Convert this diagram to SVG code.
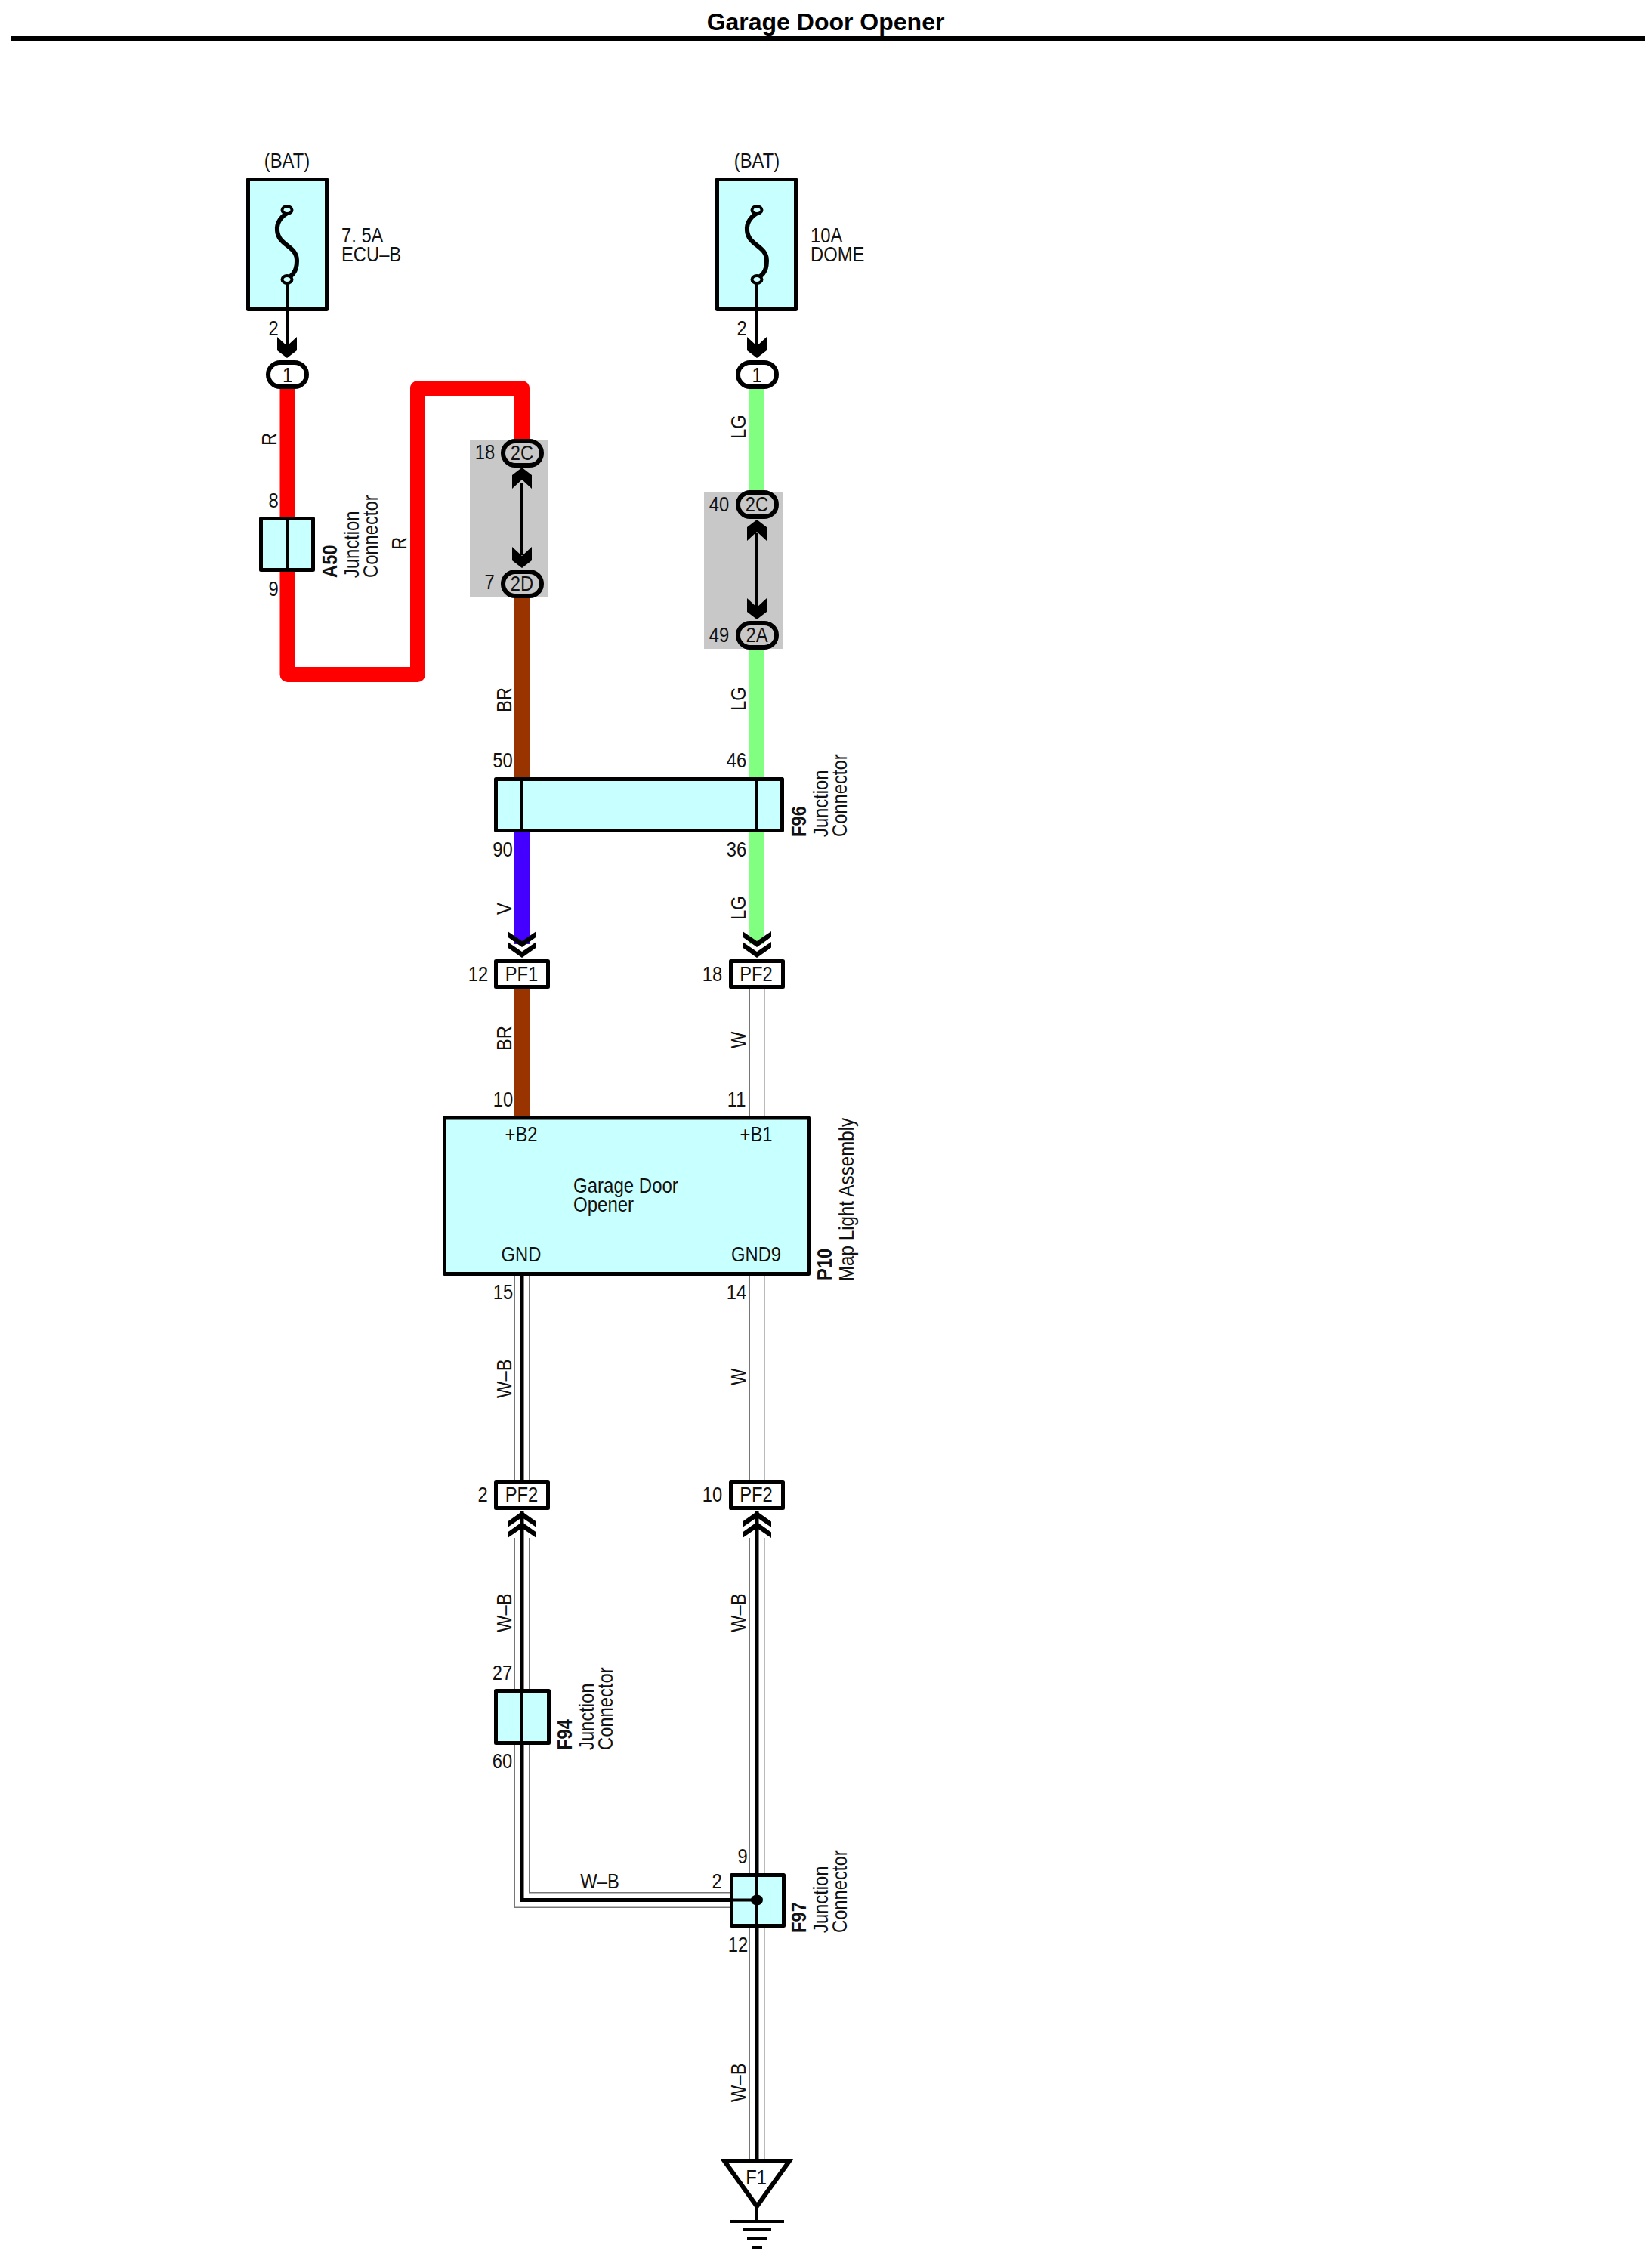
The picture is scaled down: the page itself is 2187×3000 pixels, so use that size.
<svg xmlns="http://www.w3.org/2000/svg" xmlns:xlink="http://www.w3.org/1999/xlink" width="2187" height="3000" viewBox="0 0 2187 3000">
<style>
text{font-family:"Liberation Sans",Arial,sans-serif;font-size:27px;fill:#111}
.m{text-anchor:middle}
.b{font-weight:bold}
.title{font-size:32px;font-weight:bold;text-anchor:middle;fill:#000}
.box{fill:#c8ffff;stroke:#000;stroke-width:5;stroke-linejoin:round}
.white{fill:#fff;stroke:#000;stroke-width:5;stroke-linejoin:round}
.oval{fill:#fff;stroke:#000;stroke-width:6}
.ovalg{fill:#c8c8c8;stroke:#000;stroke-width:6}
.gray{fill:#c8c8c8}
.ln{fill:none;stroke:#000;stroke-width:4}
.w{fill:none;stroke-width:20;stroke-linejoin:round}
.r{stroke:#f00}.br{stroke:#930}.lg{stroke:#80ff80}.v{stroke:#40f}
.wo{fill:none;stroke:#777;stroke-width:21;stroke-linejoin:miter}
.wi{fill:none;stroke:#fff;stroke-width:18;stroke-linejoin:miter}
.wb{fill:none;stroke:#000;stroke-width:5;stroke-linejoin:miter}
</style>
<defs>
<path id="sd" d="M-13-28L0-16L13-28V-10L0 0L-13-10Z" fill="#000"/>
<path id="dc" fill="#000" d="M0 0L19-13.500V-21L0-8L-19-21V-13.500ZM0-14L19-27.500V-35L0-22L-19-35V-27.500Z"/>
<path id="fuse" d="M5-90C-8-85-14-75-13-65C-12-45 13-45 13-25C13-8 5-4-2 0" fill="none" stroke="#000" stroke-width="6"/>
</defs>
<g id="title">
<text class="title" transform="translate(1093 40)">Garage Door Opener</text>
<rect x="14" y="48" width="2164" height="6" fill="#000"/>
</g>
<g id="connectors">
<path class="w r" d="M380.500 515V893H553V514H691V585"/>
<path class="w br" d="M691 790V1030"/>
<path class="w v" d="M691 1102V1250"/>
<path class="w br" d="M691 1309V1478"/>
<path class="w lg" d="M1002 515V655"/>
<path class="w lg" d="M1002 855V1030"/>
<path class="w lg" d="M1002 1102V1250"/>
<path class="wo" d="M1002 1309V1478"/><path class="wi" d="M1002 1309V1478"/>
<path class="wo" d="M1002 1689V1961"/><path class="wi" d="M1002 1689V1961"/>
<path class="wo" d="M691 1689V1961"/><path class="wi" d="M691 1689V1961"/><path class="wb" d="M691 1689V1961"/>
<path class="wo" d="M691 2036V2515.500H966"/><path class="wi" d="M691 2036V2515.500H966"/>
<path class="wb" d="M691 2001V2515.500H1002"/>
<path class="wo" d="M1002 2036V2860"/><path class="wi" d="M1002 2036V2860"/>
<path class="wb" d="M1002 2001V2860"/>
</g>
<g id="fuse-ecu-b">
<text class="m" transform="translate(380 222) scale(.88 1)">(BAT)</text>
<rect class="box" x="328.500" y="237.500" width="104" height="172"/>
<use href="#fuse" x="380" y="370"/>
<path class="ln" d="M380 370V460"/>
<ellipse cx="380" cy="278" rx="6.500" ry="5" fill="#c8ffff" stroke="#000" stroke-width="4"/>
<ellipse cx="380" cy="370" rx="6.500" ry="5" fill="#c8ffff" stroke="#000" stroke-width="4"/>
<text transform="translate(452 321) scale(.88 1)">7. 5A</text>
<text transform="translate(452 346) scale(.88 1)">ECU–B</text>
<text class="m" transform="translate(362 444) scale(.88 1)">2</text>
<use href="#sd" x="380" y="474"/>
<rect class="oval" x="355" y="480" width="51" height="32" rx="16"/>
<text class="m" transform="translate(380.500 506) scale(.88 1)">1</text>
</g>
<g id="fuse-dome">
<text class="m" transform="translate(1002 222) scale(.88 1)">(BAT)</text>
<rect class="box" x="949.500" y="237.500" width="104" height="172"/>
<use href="#fuse" x="1002" y="370"/>
<path class="ln" d="M1002 370V460"/>
<ellipse cx="1002" cy="278" rx="6.500" ry="5" fill="#c8ffff" stroke="#000" stroke-width="4"/>
<ellipse cx="1002" cy="370" rx="6.500" ry="5" fill="#c8ffff" stroke="#000" stroke-width="4"/>
<text transform="translate(1073 321) scale(.88 1)">10A</text>
<text transform="translate(1073 346) scale(.88 1)">DOME</text>
<text class="m" transform="translate(982 444) scale(.88 1)">2</text>
<use href="#sd" x="1002" y="474"/>
<rect class="oval" x="977" y="480" width="51" height="32" rx="16"/>
<text class="m" transform="translate(1002 506) scale(.88 1)">1</text>
</g>
<g id="a50">
<rect class="box" x="345.500" y="686.500" width="69" height="68"/>
<path class="ln" d="M380 686V755"/>
<text class="m" transform="translate(362 672) scale(.88 1)">8</text>
<text class="m" transform="translate(362 789) scale(.88 1)">9</text>
<text class="b" transform="translate(446 765) rotate(-90) scale(.88 1)">A50</text>
<text transform="translate(475 765) rotate(-90) scale(.88 1)">Junction</text>
<text transform="translate(500 765) rotate(-90) scale(.88 1)">Connector</text>
</g>
<g id="splice-left">
<rect class="gray" x="622" y="583" width="104" height="207"/>
<path class="ln" d="M691 640V735"/>
<use href="#sd" transform="translate(691 619) scale(1 -1)" />
<use href="#sd" x="691" y="752"/>
<rect class="ovalg" x="666" y="584" width="51" height="32" rx="16"/>
<rect class="ovalg" x="666" y="757" width="51" height="32" rx="16"/>
<text class="m" transform="translate(691 609) scale(.88 1)">2C</text>
<text class="m" transform="translate(691 782) scale(.88 1)">2D</text>
<text class="m" transform="translate(642 608) scale(.88 1)">18</text>
<text class="m" transform="translate(648 780) scale(.88 1)">7</text>
</g>
<g id="splice-right">
<rect class="gray" x="932" y="652" width="104" height="207"/>
<path class="ln" d="M1002 705V805"/>
<use href="#sd" transform="translate(1002 688) scale(1 -1)" />
<use href="#sd" x="1002" y="820"/>
<rect class="ovalg" x="977" y="652" width="51" height="32" rx="16"/>
<rect class="ovalg" x="977" y="825" width="51" height="32" rx="16"/>
<text class="m" transform="translate(1002 677) scale(.88 1)">2C</text>
<text class="m" transform="translate(1002 850) scale(.88 1)">2A</text>
<text class="m" transform="translate(952 677) scale(.88 1)">40</text>
<text class="m" transform="translate(952 850) scale(.88 1)">49</text>
</g>
<g id="f96">
<rect class="box" x="656.500" y="1031.500" width="379" height="68"/>
<path class="ln" d="M691 1031V1100M1002 1031V1100"/>
<text class="m" transform="translate(665.500 1016) scale(.88 1)">50</text>
<text class="m" transform="translate(975 1016) scale(.88 1)">46</text>
<text class="m" transform="translate(665.500 1134) scale(.88 1)">90</text>
<text class="m" transform="translate(975 1134) scale(.88 1)">36</text>
<text class="b" transform="translate(1067 1108) rotate(-90) scale(.88 1)">F96</text>
<text transform="translate(1096 1108) rotate(-90) scale(.88 1)">Junction</text>
<text transform="translate(1121 1108) rotate(-90) scale(.88 1)">Connector</text>
</g>
<g id="pf1-12">
<use href="#dc" x="691" y="1268"/>
<rect class="white" x="656.500" y="1272.500" width="69" height="34"/>
<text class="m" transform="translate(690.500 1299) scale(.88 1)">PF1</text>
<text class="m" transform="translate(633 1299) scale(.88 1)">12</text>
</g>
<g id="pf2-18">
<use href="#dc" x="1002" y="1268"/>
<rect class="white" x="967.500" y="1272.500" width="69" height="34"/>
<text class="m" transform="translate(1001 1299) scale(.88 1)">PF2</text>
<text class="m" transform="translate(943 1299) scale(.88 1)">18</text>
</g>
<g id="p10">
<rect class="box" x="588.500" y="1480" width="482" height="206.500"/>
<text class="m" transform="translate(666 1465) scale(.88 1)">10</text>
<text class="m" transform="translate(975 1465) scale(.88 1)">11</text>
<text class="m" transform="translate(690 1511) scale(.88 1)">+B2</text>
<text class="m" transform="translate(1001 1511) scale(.88 1)">+B1</text>
<text transform="translate(759 1579) scale(.89 1)">Garage Door</text>
<text transform="translate(759 1604) scale(.89 1)">Opener</text>
<text class="m" transform="translate(690 1670) scale(.88 1)">GND</text>
<text class="m" transform="translate(1001 1670) scale(.88 1)">GND9</text>
<text class="m" transform="translate(666 1720) scale(.88 1)">15</text>
<text class="m" transform="translate(975 1720) scale(.88 1)">14</text>
<text class="b" transform="translate(1101 1695) rotate(-90) scale(.88 1)">P10</text>
<text transform="translate(1130 1696) rotate(-90) scale(.895 1)">Map Light Assembly</text>
</g>
<g id="pf2-2">
<rect class="white" x="656.500" y="1962.500" width="69" height="34"/>
<text class="m" transform="translate(690.500 1988) scale(.88 1)">PF2</text>
<text class="m" transform="translate(639 1988) scale(.88 1)">2</text>
<use href="#dc" transform="translate(691 2001) scale(1 -1)"/>
</g>
<g id="pf2-10">
<rect class="white" x="967.500" y="1962.500" width="69" height="34"/>
<text class="m" transform="translate(1001 1988) scale(.88 1)">PF2</text>
<text class="m" transform="translate(943 1988) scale(.88 1)">10</text>
<use href="#dc" transform="translate(1002 2001) scale(1 -1)"/>
</g>
<g id="f94">
<rect class="box" x="656.500" y="2238.500" width="70" height="69"/>
<path class="ln" d="M691 2239V2308"/>
<text class="m" transform="translate(665 2224) scale(.88 1)">27</text>
<text class="m" transform="translate(665 2341) scale(.88 1)">60</text>
<text class="b" transform="translate(757 2317) rotate(-90) scale(.88 1)">F94</text>
<text transform="translate(786 2317) rotate(-90) scale(.88 1)">Junction</text>
<text transform="translate(811 2317) rotate(-90) scale(.88 1)">Connector</text>
</g>
<g id="f97">
<rect class="box" x="968.500" y="2482.500" width="69" height="67"/>
<path class="ln" d="M1002 2482V2550M968 2515.500H1002"/>
<ellipse cx="1002" cy="2515.500" rx="8" ry="7" fill="#000"/>
<text class="m" transform="translate(983 2467) scale(.88 1)">9</text>
<text class="m" transform="translate(949 2500) scale(.88 1)">2</text>
<text class="m" transform="translate(977 2584) scale(.88 1)">12</text>
<text class="b" transform="translate(1067 2559) rotate(-90) scale(.88 1)">F97</text>
<text transform="translate(1096 2559) rotate(-90) scale(.88 1)">Junction</text>
<text transform="translate(1121 2559) rotate(-90) scale(.88 1)">Connector</text>
</g>
<g id="f1">
<path d="M959 2861H1045L1002 2921Z" fill="#fff" stroke="#000" stroke-width="6" stroke-linejoin="miter"/>
<text class="m" transform="translate(1001 2892) scale(.88 1)">F1</text>
<path class="ln" d="M1002 2921V2941"/>
<path class="ln" d="M966 2941H1038M983 2952H1021M989 2964H1015M995 2975H1009"/>
</g>
<g id="wire-labels">
<text transform="translate(366 590) rotate(-90) scale(.88 1)">R</text>
<text transform="translate(538 728) rotate(-90) scale(.88 1)">R</text>
<text transform="translate(987 581) rotate(-90) scale(.88 1)">LG</text>
<text transform="translate(677 943) rotate(-90) scale(.88 1)">BR</text>
<text transform="translate(987 941) rotate(-90) scale(.88 1)">LG</text>
<text transform="translate(677 1211) rotate(-90) scale(.88 1)">V</text>
<text transform="translate(987 1218) rotate(-90) scale(.88 1)">LG</text>
<text transform="translate(677 1391) rotate(-90) scale(.88 1)">BR</text>
<text transform="translate(987 1388) rotate(-90) scale(.88 1)">W</text>
<text transform="translate(677 1851) rotate(-90) scale(.88 1)">W–B</text>
<text transform="translate(987 1834) rotate(-90) scale(.88 1)">W</text>
<text transform="translate(677 2161) rotate(-90) scale(.88 1)">W–B</text>
<text transform="translate(987 2161) rotate(-90) scale(.88 1)">W–B</text>
<text class="m" transform="translate(794 2500) scale(.88 1)">W–B</text>
<text transform="translate(987 2783) rotate(-90) scale(.88 1)">W–B</text>
</g>
</svg>
